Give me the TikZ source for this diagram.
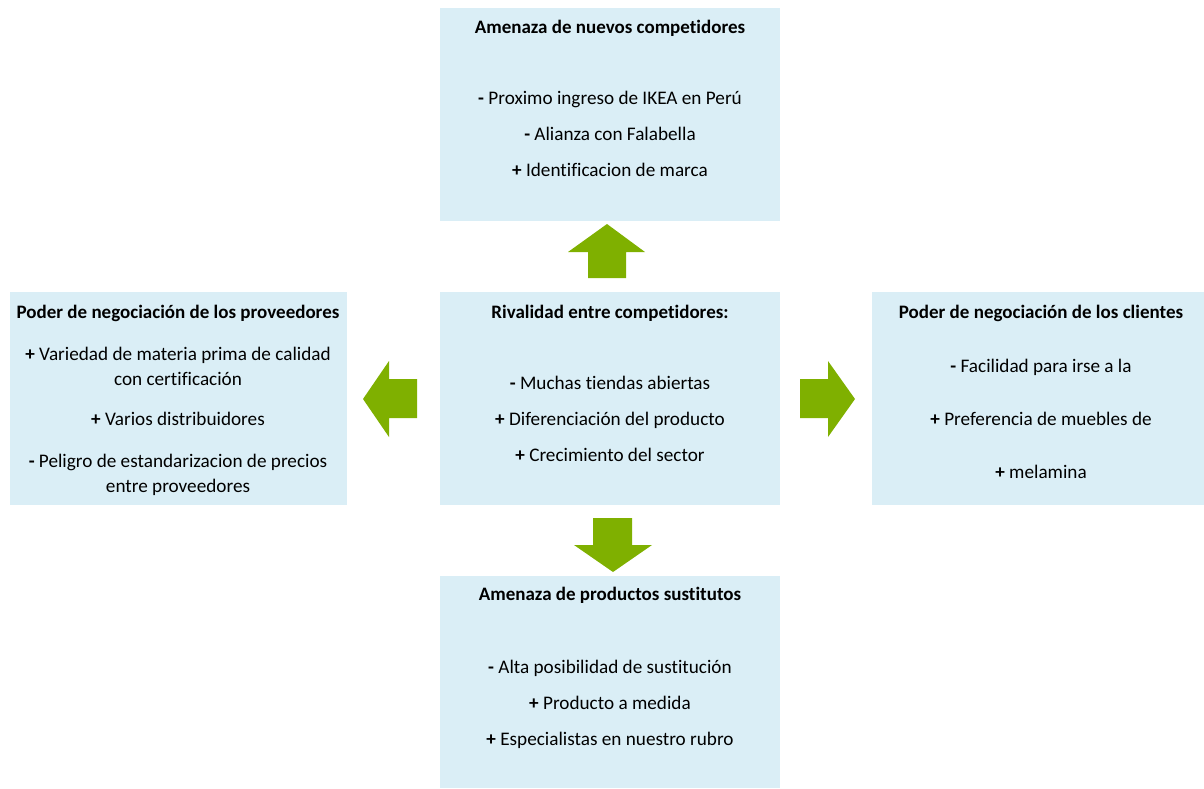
\documentclass[tikz,border=0pt]{standalone}
\usepackage{fontspec}
\setmainfont[Ligatures=NoCommon]{Carlito}
\usepackage{tikz}

\definecolor{cajaazul}{RGB}{218,238,246}
\definecolor{flechaverde}{RGB}{127,176,0}

\tikzset{
  caja/.style={fill=cajaazul, draw=none, anchor=north west, inner sep=0pt},
  titulo/.style={anchor=base, inner sep=0pt, font=\fontsize{19}{22}\selectfont\bfseries},
  linea/.style={anchor=base, inner sep=0pt, font=\fontsize{19.2}{22}\selectfont},
  flecha/.style={fill=flechaverde}
}
\newcommand{\mas}{\textbf{+} }
\newcommand{\menos}{\textbf{-} }

\begin{document}
\begin{tikzpicture}[x=1pt,y=-1pt]
\useasboundingbox (0,0) rectangle (1204,788);
% The boxes
\node[caja, minimum width=340pt, minimum height=213pt] (nuevos) at (440,8) {};
\node[caja, minimum width=340pt, minimum height=213pt] (rivalidad) at (440,292) {};
\node[caja, minimum width=337pt, minimum height=213pt] (proveedores) at (10,292) {};
\node[caja, minimum width=332pt, minimum height=213pt] (clientes) at (872,292) {};
\node[caja, minimum width=340pt, minimum height=212pt] (sustitutos) at (440,576) {};

% The block arrows
\fill[flecha] (588,278) -- (588,252) -- (568,252) -- (607,224) -- (645,252) -- (626,252) -- (626,278) -- cycle;
\fill[flecha] (593,518) -- (593,545) -- (574,545) -- (613,572) -- (652,545) -- (632,545) -- (632,518) -- cycle;
\fill[flecha] (417,379) -- (389,379) -- (389,361) -- (363,399) -- (389,437) -- (389,418) -- (417,418) -- cycle;
\fill[flecha] (800,379) -- (828,379) -- (828,361) -- (855,399) -- (828,437) -- (828,418) -- (800,418) -- cycle;

% Amenaza de nuevos competidores
\node[titulo] (nuevos-t) at (610,33) {Amenaza de nuevos competidores};
\node[linea] (nuevos-1) at (610,104) {\menos Proximo ingreso de IKEA en Perú};
\node[linea] (nuevos-2) at (610,140) {\menos Alianza con Falabella};
\node[linea] (nuevos-3) at (610,176) {\mas Identificacion de marca};

% Rivalidad entre competidores
\node[titulo] (rivalidad-t) at (610,318) {Rivalidad entre competidores:};
\node[linea] (rivalidad-1) at (610,389) {\menos Muchas tiendas abiertas};
\node[linea] (rivalidad-2) at (610,425) {\mas Diferenciación del producto};
\node[linea] (rivalidad-3) at (610,461) {\mas Crecimiento del sector};

% Poder de negociacion de los proveedores
\node[titulo] (proveedores-t) at (178,318) {Poder de negociación de los proveedores};
\node[linea] (proveedores-1) at (178,360) {\mas Variedad de materia prima de calidad};
\node[linea] (proveedores-1b) at (178,385) {con certificación};
\node[linea] (proveedores-2) at (178,425) {\mas Varios distribuidores};
\node[linea] (proveedores-3) at (178,467) {\menos Peligro de estandarizacion de precios};
\node[linea] (proveedores-3b) at (178,492) {entre proveedores};

% Poder de negociacion de los clientes
\node[titulo] (clientes-t) at (1041,318) {Poder de negociación de los clientes};
\node[linea] (clientes-1) at (1041,372) {\menos Facilidad para irse a la};
\node[linea] (clientes-2) at (1041,425) {\mas Preferencia de muebles de};
\node[linea] (clientes-3) at (1041,478) {\mas melamina};

% Amenaza de productos sustitutos
\node[titulo] (sustitutos-t) at (610,600) {Amenaza de productos sustitutos};
\node[linea] (sustitutos-1) at (610,673) {\menos Alta posibilidad de sustitución};
\node[linea] (sustitutos-2) at (610,709) {\mas Producto a medida};
\node[linea] (sustitutos-3) at (610,745) {\mas Especialistas en nuestro rubro};
\end{tikzpicture}
\end{document}
